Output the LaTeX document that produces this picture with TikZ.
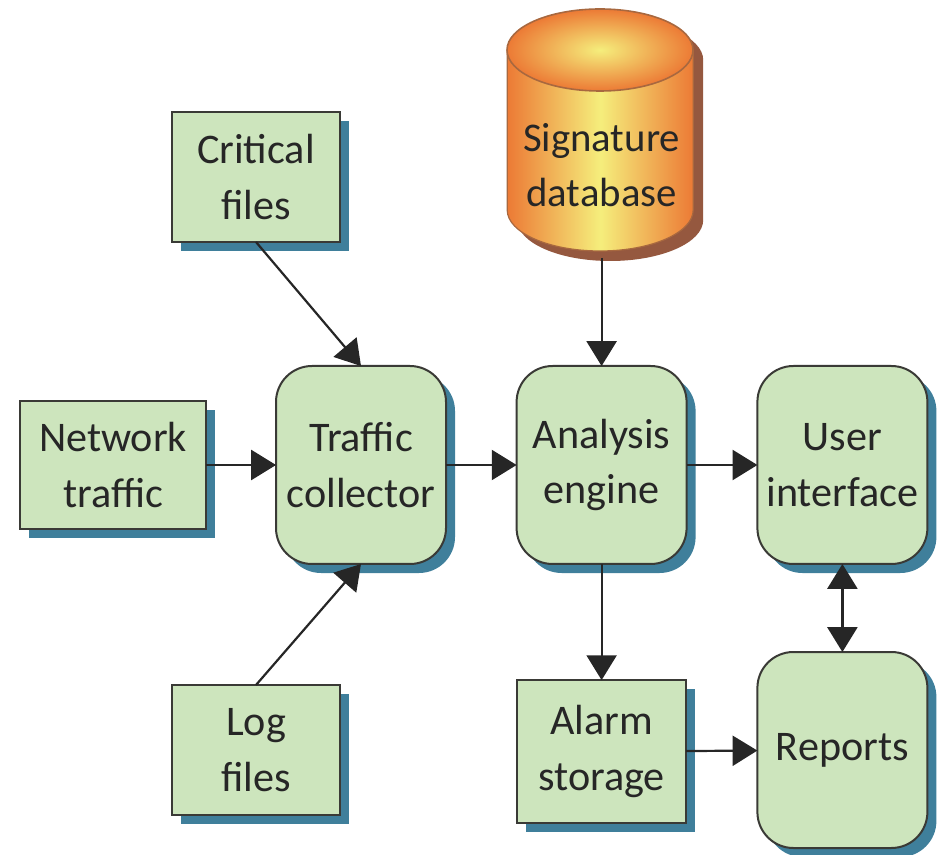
\documentclass[tikz,border=0pt]{standalone}
\usepackage{fontspec}
\setmainfont{Carlito}
\usetikzlibrary{arrows.meta,shadows,positioning}
\definecolor{boxgreen}{HTML}{CDE5BD}
\definecolor{boxshadow}{HTML}{3F7F9B}
\definecolor{boxline}{HTML}{3A3A36}
\definecolor{cylorange}{HTML}{EC7A35}
\definecolor{cylyellow}{HTML}{F5EE7C}
\definecolor{cylshadow}{HTML}{95583F}
\definecolor{cylline}{HTML}{A8683F}
\tikzset{
  boxnode/.style={draw=boxline,line width=0.05cm,fill=boxgreen,align=center,outer sep=0pt,inner sep=0pt,
    font=\fontsize{30}{39.5}\selectfont,text=black!85,
    drop shadow={shadow xshift=0.225cm,shadow yshift=-0.225cm,fill=boxshadow,opacity=1}},
  roundnode/.style={boxnode,rounded corners=0.9cm,minimum width=4.25cm},
  arrowline/.style={line width=0.055cm,draw=black!85,-{Triangle[length=0.62cm,width=0.75cm]}},
}
\begin{document}
\begin{tikzpicture}
  \useasboundingbox (0,0) rectangle (23.55,21.35);

  \fill[cylshadow] (12.93,19.85) -- (12.93,15.85) arc (180:360:2.325 and 1.025)
     -- (17.58,19.85) arc (0:180:2.325 and 1.025) -- cycle ;        % Shadow of database
  \shade[left color=cylorange,right color=cylorange,middle color=cylyellow]
     (12.68,20.1) -- (12.68,16.1) arc (180:360:2.325 and 1.025)
     -- (17.33,20.1) -- cycle ;                                     % Body of database
  \draw[cylline,line width=0.03cm] (12.68,20.1) -- (12.68,16.1) arc (180:360:2.325 and 1.025)
     -- (17.33,20.1) ;
  \shade[inner color=cylyellow,outer color=cylorange,draw=cylline,line width=0.04cm]
     (15.0,20.1) ellipse (2.325 and 1.025) ;                        % Top of database
  \node[font=\fontsize{29}{39.5}\selectfont,text=black!85,align=center] (signature)
     at (15.04,17.22) {Signature\\database} ;
  \coordinate (signaturebase) at (15.04,14.9) ;

  \node[boxnode,minimum width=4.2cm,minimum height=3.25cm] (critical) at (6.4,16.925) {Critical\\files} ;
  \node[boxnode,minimum width=4.65cm,minimum height=3.2cm] (network) at (2.825,9.725) {Network\\traffic} ;
  \node[boxnode,minimum width=4.2cm,minimum height=3.25cm] (log) at (6.4,2.6) {Log\\files} ;
  \node[boxnode,minimum width=4.225cm,minimum height=3.575cm] (alarm) at (15.04,2.56) {Alarm\\storage} ;

  \node[roundnode,minimum height=4.95cm] (traffic) at (9.025,9.725) {Traffic\\collector} ;
  \node[roundnode,minimum height=4.95cm] (analysis) at (15.04,9.725) {Analysis\\engine} ;
  \node[roundnode,minimum height=4.95cm] (user) at (21.06,9.725) {User\\interface} ;
  \node[roundnode,minimum height=4.9cm] (reports) at (21.06,2.6) {Reports} ;

  \draw[arrowline] (critical.south) -- (traffic.north) ;
  \draw[arrowline] (network) -- (traffic) ;
  \draw[arrowline] (log.north) -- (traffic.south) ;
  \draw[arrowline] (traffic) -- (analysis) ;
  \draw[arrowline] (signaturebase) -- (analysis.north) ;
  \draw[arrowline] (analysis) -- (user) ;
  \draw[arrowline] (analysis) -- (alarm) ;
  \draw[arrowline] (alarm) -- (reports) ;
  \draw[arrowline,{Triangle[length=0.62cm,width=0.75cm]}-{Triangle[length=0.62cm,width=0.75cm]}] (user) -- (reports) ;
\end{tikzpicture}
\end{document}
